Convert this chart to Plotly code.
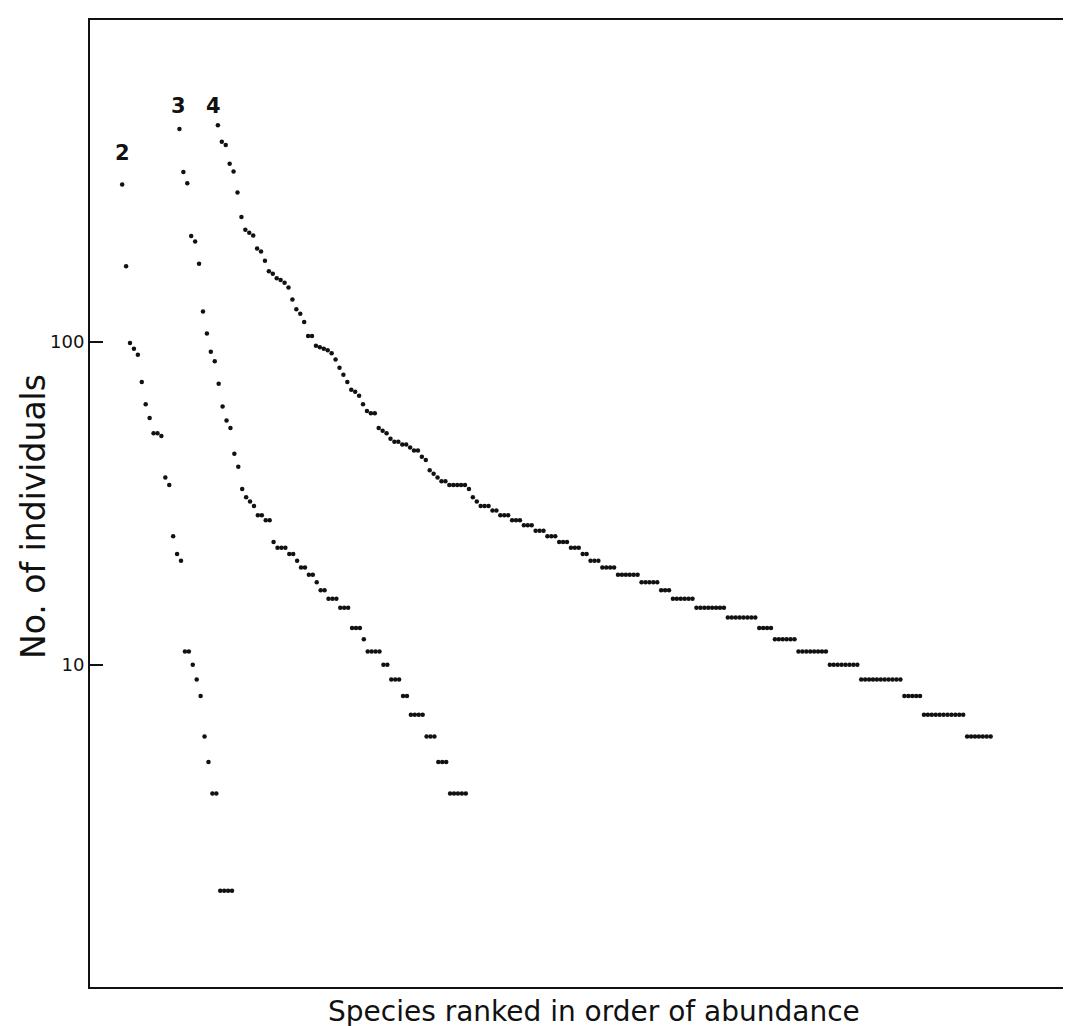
import plotly.graph_objects as go

# ---------------- data (species abundances, ranked) ----------------
curve_labels = ["2", "3", "4"]

abund_2 = [306, 171, 99, 95, 91, 75, 64, 58, 52, 52,
           51, 38, 36, 25, 22, 21, 11, 11, 10, 9,
           8, 6, 5, 4, 4, 2, 2, 2, 2]

abund_3 = [455, 335, 309, 212, 204, 174, 124, 106, 93, 87,
           74, 63, 57, 54, 45, 41, 35, 33, 32, 31,
           29, 29, 28, 28, 24, 23, 23, 23, 22, 22,
           21, 20, 20, 19, 19, 18, 17, 17, 16, 16,
           16, 15, 15, 15, 13, 13, 13, 12, 11, 11,
           11, 11, 10, 10, 9, 9, 9, 8, 8, 7,
           7, 7, 7, 6, 6, 6, 5, 5, 5, 4,
           4, 4, 4, 4]

abund_4 = [467, 415, 406, 355, 336, 289, 243, 222, 217, 213,
           194, 190, 178, 165, 162, 157, 155, 152, 147, 135,
           126, 122, 115, 104, 104, 97, 96, 95, 94, 92,
           88, 83, 79, 75, 71, 70, 68, 64, 61, 60,
           60, 54, 53, 52, 50, 49, 49, 48, 48, 47,
           46, 46, 44, 43, 40, 39, 38, 37, 37, 36,
           36, 36, 36, 36, 35, 33, 32, 31, 31, 31,
           30, 30, 29, 29, 29, 28, 28, 28, 27, 27,
           27, 26, 26, 26, 25, 25, 25, 24, 24, 24,
           23, 23, 23, 22, 22,
           21, 21, 21,
           20, 20, 20, 20,
           19, 19, 19, 19, 19, 19,
           18, 18, 18, 18, 18,
           17, 17, 17,
           16, 16, 16, 16, 16, 16,
           15, 15, 15, 15, 15, 15, 15, 15,
           14, 14, 14, 14, 14, 14, 14, 14,
           13, 13, 13, 13,
           12, 12, 12, 12, 12, 12,
           11, 11, 11, 11, 11, 11, 11, 11,
           10, 10, 10, 10, 10, 10, 10, 10,
           9, 9, 9, 9, 9, 9, 9, 9, 9, 9, 9,
           8, 8, 8, 8, 8,
           7, 7, 7, 7, 7, 7, 7, 7, 7, 7, 7,
           6, 6, 6, 6, 6, 6, 6]

y_tick_vals = [10, 100]
y_tick_text = ["10", "100"]

series = {"2": abund_2, "3": abund_3, "4": abund_4}

# ---------------- layout / style ----------------
# where each curve starts along the rank axis (curves are displaced sideways)
rank_start = {"2": 8.2, "3": 22.8, "4": 32.6}

FONT = "'DejaVu Sans', Verdana, sans-serif"
INK = "#111111"

fig = go.Figure()
for lab in curve_labels:
    vals = series[lab]
    ranks = [rank_start[lab] + i for i in range(len(vals))]
    fig.add_trace(go.Scatter(
        x=ranks, y=vals, mode="markers",
        marker=dict(size=4.5, color=INK, line=dict(width=0)),
        showlegend=False, hoverinfo="x+y", name=lab,
    ))

# curve number labels (placed just above the first point of each curve)
label_pos = {"2": (rank_start["2"], 2.585),
             "3": (rank_start["3"] - 0.2, 2.73),
             "4": (rank_start["4"] - 1.0, 2.73)}
for lab in curve_labels:
    x, ylog = label_pos[lab]
    fig.add_annotation(x=x, y=ylog, xref="x", yref="y", text="<b>%s</b>" % lab,
                       showarrow=False, font=dict(family=FONT, size=21, color=INK),
                       xanchor="center", yanchor="middle")

# axis titles
fig.add_annotation(x=-0.058, y=0.487, xref="paper", yref="paper",
                   text="No. of individuals", textangle=-90, showarrow=False,
                   font=dict(family=FONT, size=33, color=INK),
                   xanchor="center", yanchor="middle")
fig.add_annotation(x=0.512, y=-0.025, xref="paper", yref="paper",
                   text="Species ranked in order of abundance", showarrow=False,
                   font=dict(family=FONT, size=28, color=INK),
                   xanchor="center", yanchor="middle")

fig.update_xaxes(range=[0, 251.1], showgrid=False, zeroline=False,
                 showticklabels=False, ticks="", showline=True,
                 linecolor=INK, linewidth=2, mirror=True)
fig.update_yaxes(type="log", range=[0.003, 2.995], showgrid=False, zeroline=False,
                 tickvals=y_tick_vals, ticktext=y_tick_text,
                 ticks="inside", ticklen=13, tickwidth=2, tickcolor=INK,
                 tickfont=dict(family=FONT, size=18, color=INK),
                 showline=True, linecolor=INK, linewidth=2, mirror=True)

fig.update_layout(
    width=1071, height=1026,
    margin=dict(l=82, r=2, t=12, b=47, pad=0),
    paper_bgcolor="white", plot_bgcolor="white",
    font=dict(family=FONT, color=INK),
)

fig.write_html("out.html")
